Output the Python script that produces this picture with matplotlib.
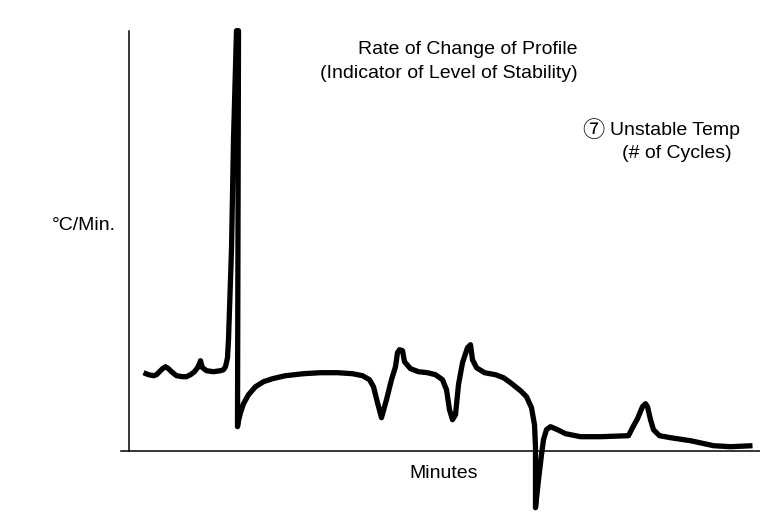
import matplotlib
matplotlib.use("Agg")
import matplotlib.pyplot as plt

# Curve data (minutes offset, rate units)
minutes = [15, 20, 25, 28, 31, 34, 37, 40, 43, 48, 54, 58, 62, 66, 69, 71, 72, 73, 74, 78, 85, 92, 95,
           97, 99, 100, 103, 105, 108,
           110, 109, 110, 112, 115, 120, 127, 135, 144, 157, 175, 192, 209, 224, 234, 241, 245, 249, 253,
           258, 263, 267, 269, 271, 274, 276, 282, 290, 299, 307, 314, 318, 321, 324, 327, 330, 334,
           339, 342, 344, 348, 356, 367, 375, 382, 392, 398, 403, 406, 407, 407, 407, 410, 413, 415,
           418, 422, 429, 437, 452, 472, 500, 504, 509, 514, 517, 519, 522, 525, 531, 542, 562, 585,
           602, 624]
rate = [78, 76, 75, 76, 79, 82, 84, 82, 79, 75, 74, 74, 76, 79, 83, 87, 90, 86, 83, 80, 79, 80, 81,
        84, 93, 111, 201, 311, 420,
        420, 24, 30, 38, 47, 56, 64, 69, 72, 75, 77, 78, 78, 77, 75, 71, 64, 48, 33,
        51, 71, 84, 98, 101, 100, 89, 82, 79, 78, 76, 71, 61, 41, 31, 36, 66, 88,
        103, 106, 91, 83, 78, 76, 73, 68, 60, 54, 43, 26, 4, -29, -57, -29, -4, 11,
        21, 24, 21, 17, 14, 14, 15, 23, 32, 44, 47, 44, 31, 21, 15, 13, 10, 5,
        4, 5]

title_lines = ["Rate of Change of Profile", "(Indicator of Level of Stability)"]
note_mark = "\u2466"
note_lines = ["Unstable Temp", "(# of Cycles)"]
ylabel = "°C/Min."
xlabel = "Minutes"

W, H = 760, 517
fig = plt.figure(figsize=(W / 100, H / 100), dpi=100)
ax = fig.add_axes([0, 0, 1, 1])
ax.set_xlim(-128.5, W - 128.5)
ax.set_ylim(-(H - 450.7), 450.7)
ax.set_facecolor("white")

ax.plot(minutes, rate, color="black", lw=3.8, solid_joinstyle="round", solid_capstyle="butt")

# axis lines
ax.plot([0, 0], [0, 420], color="black", lw=1.1)
ax.plot([-7.5, 631.5], [0, 0], color="black", lw=1.1)

for s in ax.spines.values():
    s.set_visible(False)
ax.set_xticks([])
ax.set_yticks([])

fam = ["Liberation Sans", "DejaVu Sans", "Noto Sans CJK JP"]
fs = 14

def px(x, y):
    return x / W, 1 - y / H

fig.text(*px(578, 50), title_lines[0], ha="right", va="center", fontsize=fs, family=fam)
fig.text(*px(578, 74), title_lines[1], ha="right", va="center", fontsize=fs, family=fam)
fig.text(*px(593, 130), note_mark, ha="center", va="center", fontsize=16,
         family=["Noto Sans CJK JP", "DejaVu Sans"])
fig.text(*px(610, 130), note_lines[0], ha="left", va="center", fontsize=fs, family=fam)
fig.text(*px(677, 154), note_lines[1], ha="center", va="center", fontsize=fs, family=fam)
fig.text(*px(84, 226), ylabel, ha="center", va="center", fontsize=fs, family=fam)
fig.text(*px(444, 473), xlabel, ha="center", va="center", fontsize=fs, family=fam)

fig.savefig("out.png", dpi=100, facecolor="white")
